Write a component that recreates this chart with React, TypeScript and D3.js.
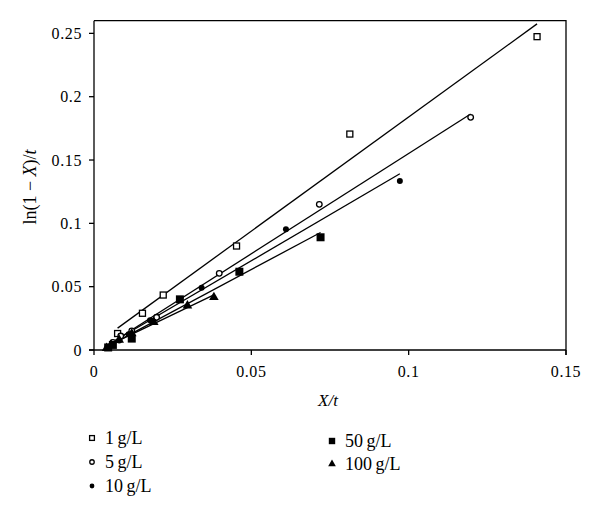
import React from "react";
import * as d3 from "d3";

const xTicks = [0, 0.05, 0.1, 0.15];
const yTicks = [0, 0.05, 0.1, 0.15, 0.2, 0.25];
const xTickLabels = ["0", "0.05", "0.1", "0.15"];
const yTickLabels = ["0", "0.05", "0.1", "0.15", "0.2", "0.25"];

const seriesNames = ["1\u2009g/L", "5\u2009g/L", "10\u2009g/L", "50\u2009g/L", "100\u2009g/L"];

const x1 = [0.0075, 0.0154, 0.022, 0.0453, 0.0813, 0.1408];
const y1 = [0.013, 0.029, 0.0434, 0.0821, 0.1705, 0.2474];

const x5 = [0.006, 0.0085, 0.012, 0.0199, 0.0398, 0.0716, 0.1197];
const y5 = [0.006, 0.011, 0.015, 0.0258, 0.0605, 0.115, 0.1837];

const x10 = [0.005, 0.008, 0.011, 0.0178, 0.0342, 0.061, 0.0972];
const y10 = [0.003, 0.0075, 0.0125, 0.0235, 0.0492, 0.0953, 0.1334];

const x50 = [0.0045, 0.006, 0.012, 0.0273, 0.0462, 0.072];
const y50 = [0.002, 0.004, 0.009, 0.04, 0.0618, 0.089];

const x100 = [0.004, 0.0055, 0.008, 0.012, 0.019, 0.0297, 0.0381];
const y100 = [0.0015, 0.004, 0.008, 0.013, 0.022, 0.035, 0.0416];

const seriesX = [x1, x5, x10, x50, x100];
const seriesY = [y1, y5, y10, y50, y100];
const markerKinds = ["openSquare", "openCircle", "dot", "square", "triangle"];

const FONT = "'Liberation Serif', 'Times New Roman', serif";

function regress(xs: number[], ys: number[]) {
  const mx = d3.mean(xs) as number;
  const my = d3.mean(ys) as number;
  let sxy = 0;
  let sxx = 0;
  xs.forEach((x, i) => {
    sxy += (x - mx) * (ys[i] - my);
    sxx += (x - mx) * (x - mx);
  });
  const slope = sxy / sxx;
  return { slope, intercept: my - slope * mx };
}

function Marker({ kind, cx, cy, s }: { kind: string; cx: number; cy: number; s: number }) {
  if (kind === "openSquare") {
    const h = 3 * s;
    return <rect x={cx - h} y={cy - h} width={2 * h} height={2 * h} fill="#fff" stroke="#000" strokeWidth={1.3} />;
  }
  if (kind === "openCircle") {
    return <circle cx={cx} cy={cy} r={2.8 * s} fill="#fff" stroke="#000" strokeWidth={1.3} />;
  }
  if (kind === "dot") {
    return <circle cx={cx} cy={cy} r={3 * s} fill="#000" />;
  }
  if (kind === "square") {
    const h = 4 * s;
    return <rect x={cx - h} y={cy - h} width={2 * h} height={2 * h} fill="#000" />;
  }
  const sym = d3.symbol().type(d3.symbolTriangle).size(40 * s * s)();
  return <path d={sym as string} transform={`translate(${cx},${cy})`} fill="#000" />;
}

export default function App() {
  const width = 600;
  const height = 515;
  const xScale = d3.scaleLinear().domain([0, 0.15]).range([94, 566]);
  const yScale = d3.scaleLinear().domain([0, 0.26]).range([350, 20.7]);

  const fits = seriesX.map((xs, i) => {
    const r = regress(xs, seriesY[i]);
    const xmin = d3.min(xs) as number;
    const xmax = d3.max(xs) as number;
    return [
      [xmin, r.intercept + r.slope * xmin],
      [xmax, r.intercept + r.slope * xmax],
    ] as [number, number][];
  });
  const line = d3
    .line<[number, number]>()
    .x((d) => xScale(d[0]))
    .y((d) => yScale(d[1]));

  const legendPos = [
    { mx: 92, my: 438 },
    { mx: 92, my: 462 },
    { mx: 92, my: 486 },
    { mx: 332, my: 441 },
    { mx: 332, my: 464 },
  ];

  return (
    <svg width={width} height={height} style={{ position: "absolute", left: 0, top: 0, background: "#fff" }}>
      <rect x={0} y={0} width={width} height={height} fill="#fff" />
      <path d={`M94,${yScale(0.26)}H566V355`} fill="none" stroke="#000" strokeWidth={1.3} />
      <line x1={94} x2={94} y1={yScale(0.26)} y2={350} stroke="#000" strokeWidth={1.3} />
      <line x1={89} x2={566} y1={350} y2={350} stroke="#000" strokeWidth={1.3} />
      {xTicks.map((t, i) => (
        <g key={"xt" + i}>
          <line x1={xScale(t)} x2={xScale(t)} y1={350} y2={355} stroke="#000" strokeWidth={1.3} />
          <text x={xScale(t)} y={377} textAnchor="middle" fontFamily={FONT} fontSize={16} letterSpacing={0.6}>
            {xTickLabels[i]}
          </text>
        </g>
      ))}
      {yTicks.map((t, i) => (
        <g key={"yt" + i}>
          <line x1={89} x2={94} y1={yScale(t)} y2={yScale(t)} stroke="#000" strokeWidth={1.3} />
          <text x={82} y={yScale(t) + 5.5} textAnchor="end" fontFamily={FONT} fontSize={16} letterSpacing={0.6}>
            {yTickLabels[i]}
          </text>
        </g>
      ))}
      <text x={328} y={406} textAnchor="middle" fontFamily={FONT} fontSize={17} fontStyle="italic">
        X/t
      </text>
      <text transform="translate(36,187) rotate(-90)" textAnchor="middle" fontFamily={FONT} fontSize={18}>
        ln(1 − <tspan fontStyle="italic">X</tspan>)/<tspan fontStyle="italic">t</tspan>
      </text>
      {fits.map((f, i) => (
        <path key={"f" + i} d={line(f) as string} fill="none" stroke="#000" strokeWidth={1.3} />
      ))}
      {seriesX.map((xs, si) =>
        xs.map((x, j) => (
          <Marker key={`p${si}-${j}`} kind={markerKinds[si]} cx={xScale(x)} cy={yScale(seriesY[si][j])} s={1} />
        ))
      )}
      {seriesNames.map((name, i) => (
        <g key={"lg" + i}>
          <Marker kind={markerKinds[i]} cx={legendPos[i].mx} cy={legendPos[i].my} s={0.8} />
          <text x={legendPos[i].mx + 13} y={legendPos[i].my + 6} fontFamily={FONT} fontSize={18}>
            {name}
          </text>
        </g>
      ))}
    </svg>
  );
}
